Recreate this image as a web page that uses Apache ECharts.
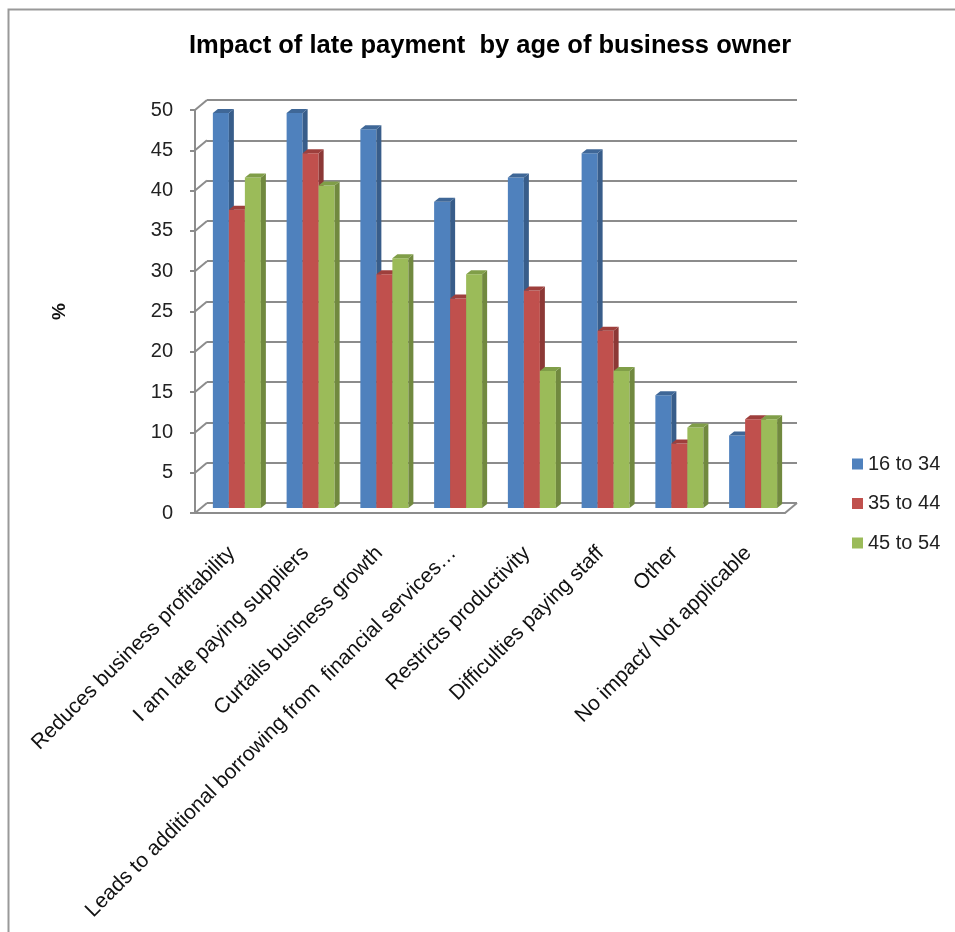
<!DOCTYPE html>
<html><head><meta charset="utf-8">
<script src="https://cdn.jsdelivr.net/npm/echarts@6/dist/echarts.min.js"></script>
<style>html,body{margin:0;padding:0;background:#fff}#c{width:955px;height:932px}</style>
</head><body><div id="c"></div>
<script>
const categories = ["Reduces business profitability","I am late paying suppliers","Curtails business growth","Leads to additional borrowing from  financial services\u2026","Restricts productivity","Difficulties paying staff","Other","No impact/ Not applicable"];
const seriesNames = ["16 to 34","35 to 44","45 to 54"];
const age16to34 = [49,49,47,38,41,44,14,9];
const age35to44 = [37,44,29,26,27,22,8,11];
const age45to54 = [41,40,31,29,17,17,10,11];
const yTicks = [0,5,10,15,20,25,30,35,40,45,50];

const frontColors = ['#4f81bd','#c0504d','#9bbb59'];
const sideColors = ['#385d8a','#8c3836','#71893f'];
const topColors = ['#3f6797','#9e3f3c','#809e48'];
const allValues = [age16to34, age35to44, age45to54];
const FONT = '"Liberation Sans", Arial, sans-serif';
const DEPTH_X = 12, DEPTH_Y = 10;

function render3D(params, api){
  const si = params.seriesIndex;
  const ci = api.value(0), v = api.value(1);
  const base = api.coord([ci, 0]);
  const top = api.coord([ci, v]);
  const cw = api.size([1,0])[0];
  const bw = cw*0.217;
  const ox = 5, oy = -5, dx = 5, dy = 4;
  const x0 = base[0] - 1.5*bw + si*bw + ox;
  const yb = base[1] + oy, yt = top[1] + oy;
  return {type:'group', children:[
    {type:'rect', shape:{x:x0, y:yt, width:bw, height:yb-yt}, style:{fill:frontColors[si]}},
    {type:'polygon', shape:{points:[[x0+bw,yt],[x0+bw+dx,yt-dy],[x0+bw+dx,yb-dy],[x0+bw,yb]]}, style:{fill:sideColors[si]}},
    {type:'polygon', shape:{points:[[x0,yt],[x0+dx,yt-dy],[x0+bw+dx,yt-dy],[x0+bw,yt]]}, style:{fill:topColors[si]}}
  ]};
}

// diagonal depth lines from front axis ticks to back wall (and floor right edge)
function renderDepth(params, api){
  const v = api.value(1);
  const cs = params.coordSys;
  const p = api.coord([0, v]);
  const lines = [{type:'line', shape:{x1:cs.x, y1:p[1], x2:cs.x+DEPTH_X, y2:p[1]-DEPTH_Y},
    style:{stroke:'#8c8c8c', lineWidth:2}}];
  if (v === 0) {
    lines.push({type:'line', shape:{x1:cs.x+cs.width, y1:p[1], x2:cs.x+cs.width+DEPTH_X, y2:p[1]-DEPTH_Y},
      style:{stroke:'#8c8c8c', lineWidth:2}});
  }
  return {type:'group', children:lines};
}

const chart = echarts.init(document.getElementById('c'), null, {renderer:'canvas'});
chart.setOption({
  animation:false,
  backgroundColor:'#fff',
  title:{text:'Impact of late payment  by age of business owner', left:184, top:28,
    textStyle:{fontFamily:FONT, fontSize:25.5, fontWeight:'bold', color:'#000'}},
  legend:{orient:'vertical', left:847, top:449, itemGap:19.5, itemWidth:11, itemHeight:11, icon:'rect',
    data:seriesNames, textStyle:{fontFamily:FONT, fontSize:20, color:'#222'}},
  grid:[
    {left:195, right:170, top:110, bottom:419},
    {left:207, right:158, top:100, bottom:429}
  ],
  xAxis:[
    {type:'category', gridIndex:0, data:categories,
     axisLine:{show:true, lineStyle:{color:'#8c8c8c', width:2}}, axisTick:{show:false},
     axisLabel:{rotate:45, interval:0, margin:37, fontFamily:FONT, fontSize:21, color:'#111'}},
    {type:'category', gridIndex:1, data:categories, show:false}
  ],
  yAxis:[
    {type:'value', gridIndex:0, min:0, max:50, interval:5, name:'%', nameLocation:'middle', nameGap:126, nameRotate:90,
     nameTextStyle:{fontFamily:FONT, fontSize:19, fontWeight:'bold', color:'#111'},
     axisLine:{show:true, lineStyle:{color:'#8c8c8c', width:2}}, axisTick:{show:true, length:5, lineStyle:{color:'#8c8c8c', width:2}},
     axisLabel:{margin:22, fontFamily:FONT, fontSize:20, color:'#222', formatter:v=>yTicks.includes(v)?String(v):''},
     splitLine:{show:false}},
    {type:'value', gridIndex:1, min:0, max:50, interval:5,
     axisLine:{show:false}, axisTick:{show:false}, axisLabel:{show:false},
     splitLine:{show:true, lineStyle:{color:'#8c8c8c', width:2}}}
  ],
  series: [
    {name:'depth', type:'custom', xAxisIndex:0, yAxisIndex:0, renderItem:renderDepth, silent:true,
     data: yTicks.map(v=>[0, v]), z:1}
  ].concat(allValues.map((vals, si) => ({
    name: seriesNames[si], type:'custom', xAxisIndex:0, yAxisIndex:0,
    itemStyle:{color:frontColors[si]},
    renderItem: (p, api) => render3D(Object.assign({}, p, {seriesIndex: si}), api),
    data: categories.map((c,i)=>[i, vals[i]]),
    z: 3+si
  }))),
  graphic:[
    {type:'rect', left:6, top:7, shape:{x:0,y:0,width:990,height:990}, style:{fill:null, stroke:'#999', lineWidth:2}, silent:true, z:-1}
  ]
});
</script></body></html>
